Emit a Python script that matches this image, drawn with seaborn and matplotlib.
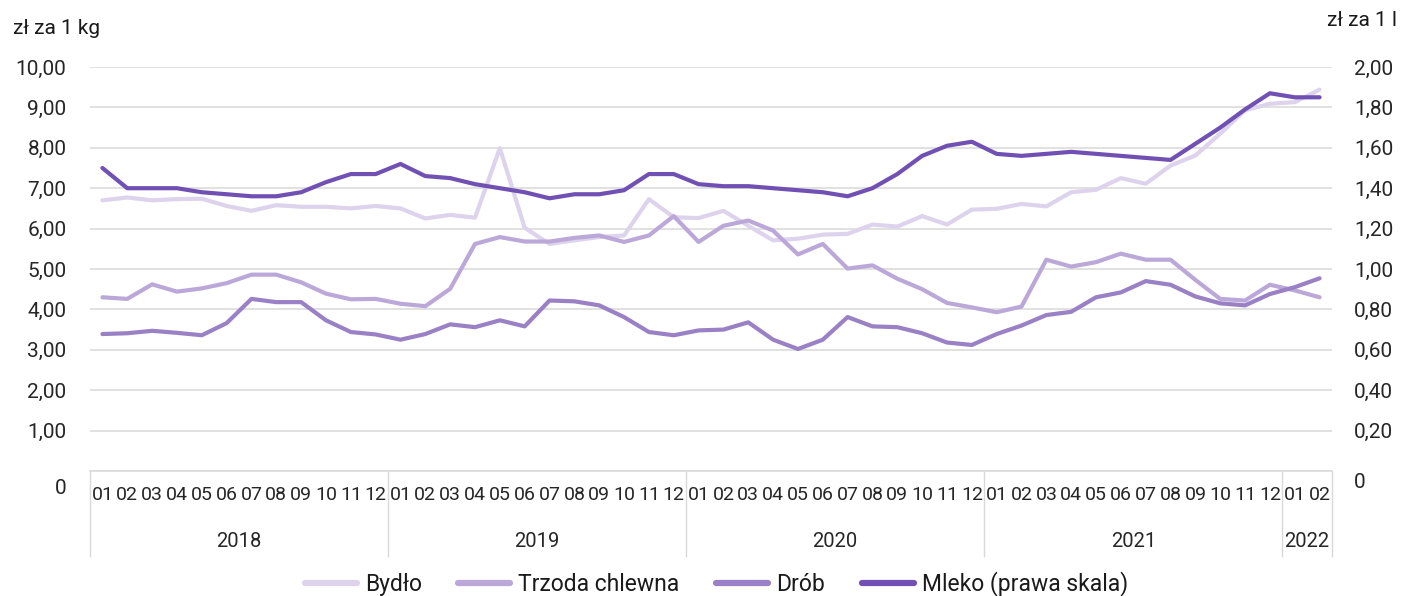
import numpy as np
import pandas as pd
import matplotlib
matplotlib.use("Agg")
import matplotlib.pyplot as plt
import matplotlib.transforms as mtransforms
import seaborn as sns

# Dane: ceny miesięczne 01.2018 - 02.2022
miesiace = ["01", "02", "03", "04", "05", "06", "07", "08", "09", "10", "11", "12"] * 4 + ["01", "02"]
lata = ["2018", "2019", "2020", "2021", "2022"]

bydlo = [6.70, 6.77, 6.70, 6.73, 6.74, 6.56, 6.44, 6.58, 6.54, 6.54, 6.50, 6.56,
         6.50, 6.25, 6.34, 6.27, 7.99, 6.02, 5.62, 5.71, 5.79, 5.83, 6.73, 6.28,
         6.26, 6.44, 6.07, 5.71, 5.75, 5.85, 5.87, 6.10, 6.05, 6.31, 6.10, 6.47,
         6.49, 6.61, 6.55, 6.90, 6.96, 7.25, 7.11, 7.56, 7.81, 8.35, 8.93, 9.09,
         9.13, 9.44]
trzoda = [4.30, 4.26, 4.62, 4.44, 4.52, 4.65, 4.86, 4.86, 4.67, 4.39, 4.25, 4.26,
          4.14, 4.08, 4.51, 5.62, 5.79, 5.68, 5.68, 5.77, 5.83, 5.67, 5.83, 6.31,
          5.67, 6.07, 6.20, 5.95, 5.36, 5.62, 5.01, 5.09, 4.76, 4.50, 4.16, 4.05,
          3.93, 4.07, 5.23, 5.06, 5.17, 5.38, 5.23, 5.23, 4.73, 4.26, 4.22, 4.61,
          4.47, 4.30]
drob = [3.39, 3.41, 3.47, 3.42, 3.36, 3.66, 4.26, 4.18, 4.18, 3.73, 3.44, 3.38,
        3.25, 3.39, 3.63, 3.56, 3.73, 3.58, 4.22, 4.20, 4.10, 3.81, 3.44, 3.36,
        3.48, 3.50, 3.68, 3.25, 3.02, 3.25, 3.81, 3.58, 3.56, 3.41, 3.18, 3.12,
        3.39, 3.60, 3.86, 3.94, 4.30, 4.42, 4.70, 4.61, 4.32, 4.15, 4.10, 4.38,
        4.55, 4.77]
mleko = [1.50, 1.40, 1.40, 1.40, 1.38, 1.37, 1.36, 1.36, 1.38, 1.43, 1.47, 1.47,
         1.52, 1.46, 1.45, 1.42, 1.40, 1.38, 1.35, 1.37, 1.37, 1.39, 1.47, 1.47,
         1.42, 1.41, 1.41, 1.40, 1.39, 1.38, 1.36, 1.40, 1.47, 1.56, 1.61, 1.63,
         1.57, 1.56, 1.57, 1.58, 1.57, 1.56, 1.55, 1.54, 1.62, 1.70, 1.79, 1.87,
         1.85, 1.85]

kolory = {"Bydło": "#ddd3ec", "Trzoda chlewna": "#bba8d9", "Drób": "#9a80c5",
          "Mleko (prawa skala)": "#7150b3"}
szary = "#d9d9d9"

n = len(miesiace)
idx = np.arange(n)

sns.set_theme(style="white")
plt.rcParams["font.family"] = ["Roboto", "DejaVu Sans"]
plt.rcParams["text.color"] = "#1a1a1a"

fig = plt.figure(figsize=(14.02, 5.96), dpi=100)
ax = fig.add_axes([90 / 1402, 1 - 471 / 596, (1332 - 90) / 1402, (471 - 67) / 596])
ax2 = ax.twinx()

# Serie na lewej osi
for nazwa, wart in [("Bydło", bydlo), ("Trzoda chlewna", trzoda), ("Drób", drob)]:
    sns.lineplot(x=idx, y=wart, ax=ax, color=kolory[nazwa], linewidth=3.0,
                 label=nazwa, legend=False)
# Mleko na prawej osi
sns.lineplot(x=idx, y=mleko, ax=ax2, color=kolory["Mleko (prawa skala)"], linewidth=3.0,
             label="Mleko (prawa skala)", legend=False)

ax.set_xlim(-0.5, n - 0.5)
ax.set_ylim(0, 10)
ax2.set_ylim(0, 2)
ax.set_xlabel("")
ax.set_ylabel("")
ax2.set_ylabel("")

# Siatka i osie Y
lewe = np.arange(0, 11, 1)
ax.set_yticks(lewe, labels=["0"] + [f"{v:.2f}".replace(".", ",") for v in lewe[1:]])
prawe = np.round(np.arange(0, 2.01, 0.2), 2)
ax2.set_yticks(prawe, labels=["0"] + [f"{v:.2f}".replace(".", ",") for v in prawe[1:]])
ax.grid(axis="y", color=szary, linewidth=1.1)
ax.grid(axis="x", visible=False)
ax2.grid(False)
ax.tick_params(axis="y", length=0, pad=17, labelsize=15)
ax2.tick_params(axis="y", length=0, pad=16, labelsize=15)
for a in (ax, ax2):
    for s in ["top", "left", "right", "bottom"]:
        a.spines[s].set_visible(False)
ax.spines["bottom"].set_visible(True)
ax.spines["bottom"].set_color(szary)
ax.spines["bottom"].set_linewidth(1.1)

# Oś X: miesiące
ax.set_xticks(idx, labels=miesiace)
ax.set_xticks(np.arange(-0.5, n, 1), minor=True)
ax.tick_params(axis="x", which="major", length=0, pad=11, labelsize=14)
ax.tick_params(axis="x", which="minor", length=31, width=1.0, color=szary)

# Oś X: lata
granice = [-0.5, 11.5, 23.5, 35.5, 47.5, n - 0.5]
srodki = [(granice[i] + granice[i + 1]) / 2 for i in range(len(lata))]
sec = ax.secondary_xaxis("bottom")
sec.spines["bottom"].set_visible(False)
sec.set_xticks(granice, labels=[""] * len(granice))
sec.set_xticks(srodki, labels=lata, minor=True)
sec.tick_params(axis="x", which="major", length=62, width=1.0, color=szary)
sec.tick_params(axis="x", which="minor", length=0, pad=44, labelsize=14.5)

# Opisy jednostek
fig.text(13 / 1402, 1 - 28 / 596, "zł za 1 kg", fontsize=15, ha="left", va="center")
fig.text(1397 / 1402, 1 - 20 / 596, "zł za 1 l", fontsize=15, ha="right", va="center")

# Legenda
uchwyty = ax.get_lines()[:3] + ax2.get_lines()[:1]
fig.legend(uchwyty, [h.get_label() for h in uchwyty], loc="lower center",
           bbox_to_anchor=(0.511, -0.035), ncol=4, frameon=False, fontsize=16.5,
           handlelength=2.27, handletextpad=0.35, columnspacing=1.6)
for h in fig.legends[0].get_lines():
    h.set_linewidth(4.5)

# Przesunięcie etykiet "0" w dół, jak w oryginale
fig.canvas.draw()
ax.get_yticklabels()[0].set_transform(
    ax.get_yticklabels()[0].get_transform()
    + mtransforms.ScaledTranslation(0, -0.15, fig.dpi_scale_trans))
ax2.get_yticklabels()[0].set_transform(
    ax2.get_yticklabels()[0].get_transform()
    + mtransforms.ScaledTranslation(0, -0.09, fig.dpi_scale_trans))

fig.savefig("out.png", dpi=100)
